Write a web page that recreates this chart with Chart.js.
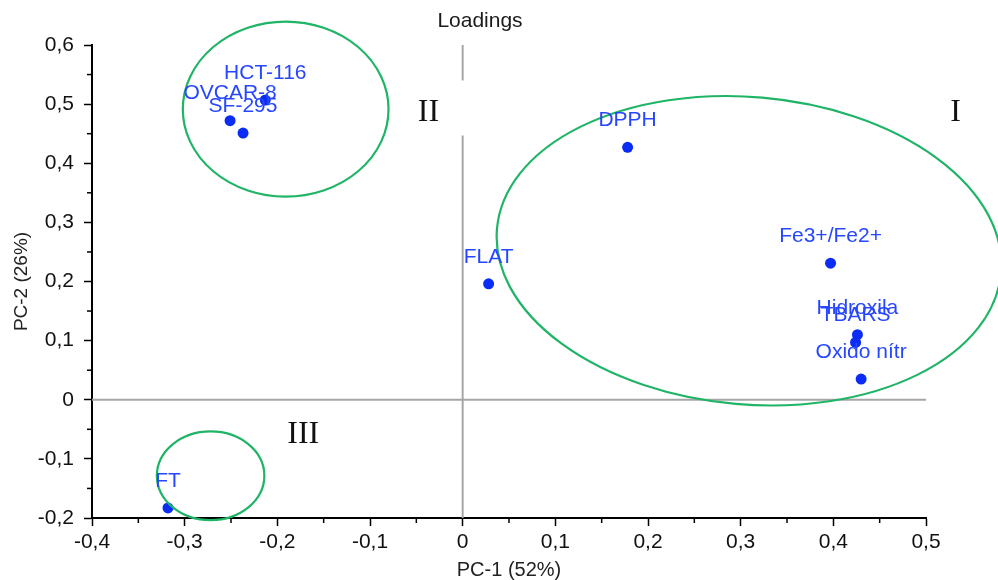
<!DOCTYPE html>
<html>
<head>
<meta charset="utf-8">
<title>Loadings</title>
<script src="https://cdn.jsdelivr.net/npm/chart.js@4.4.1/dist/chart.umd.min.js"></script>
<style>
  html, body { margin: 0; padding: 0; background: #fff; }
  #wrap { width: 998px; height: 580px; }
</style>
</head>
<body>
<div id="wrap"><canvas id="chartLoadings" width="998" height="580"></canvas></div>
<script>
// ============= DATA =============
const variables = ['HCT-116', 'OVCAR-8', 'SF-295', 'DPPH', 'FLAT', 'Fe3+/Fe2+', 'Hidroxila', 'TBARS', 'Oxido nítr', 'FT'];
const pc1 = [-0.213, -0.251, -0.237, 0.178, 0.028, 0.397, 0.426, 0.424, 0.430, -0.318];
const pc2 = [0.507, 0.472, 0.451, 0.427, 0.196, 0.231, 0.110, 0.097, 0.035, -0.183];

const xTickLabels = ['-0,4', '-0,3', '-0,2', '-0,1', '0', '0,1', '0,2', '0,3', '0,4', '0,5'];
const yTickLabels = ['-0,2', '-0,1', '0', '0,1', '0,2', '0,3', '0,4', '0,5', '0,6'];
const X_MIN = -0.4, X_MAX = 0.5, Y_MIN = -0.2, Y_MAX = 0.6;

// groups (ellipses) and their roman labels
const groupNames = ['I', 'II', 'III'];
const groupLabelX = [0.532, -0.037, -0.172];
const groupLabelY = [0.486, 0.486, -0.059];
const ellipseCx = [0.309, -0.191, -0.272];
const ellipseCy = [0.252, 0.4915, -0.1285];
const ellipseRx = [0.273, 0.111, 0.058];
const ellipseRy = [0.260, 0.148, 0.075];
const ellipseTilt = [5, 0, 0];

// gap in the vertical zero line (as in the original figure)
const zeroGap = [0.447, 0.54];

const FONT = "'Liberation Sans', Arial, sans-serif";

function isMajor(v) {
  return Math.abs(v * 10 - Math.round(v * 10)) < 1e-6;
}

// ============= PLUGINS =============
const overlayPlugin = {
  id: 'overlay',
  afterDatasetsDraw(chart) {
    const ctx = chart.ctx;
    const xs = chart.scales.x, ys = chart.scales.y;
    ctx.save();

    // ellipses
    ctx.strokeStyle = '#1fb466';
    ctx.lineWidth = 2.2;
    ellipseCx.forEach(function(cx, i) {
      const px = xs.getPixelForValue(cx);
      const py = ys.getPixelForValue(ellipseCy[i]);
      const rx = Math.abs(xs.getPixelForValue(cx + ellipseRx[i]) - px);
      const ry = Math.abs(ys.getPixelForValue(ellipseCy[i] + ellipseRy[i]) - py);
      ctx.beginPath();
      ctx.ellipse(px, py, rx, ry, ellipseTilt[i] * Math.PI / 180, 0, Math.PI * 2);
      ctx.stroke();
    });

    // point labels
    ctx.fillStyle = '#2746ff';
    ctx.font = '21px ' + FONT;
    ctx.textAlign = 'center';
    ctx.textBaseline = 'middle';
    variables.forEach(function(name, i) {
      ctx.fillText(name, xs.getPixelForValue(pc1[i]), ys.getPixelForValue(pc2[i]) - 27);
    });

    // group numerals
    ctx.fillStyle = '#111';
    ctx.font = "32px 'Liberation Serif', 'Times New Roman', serif";
    groupNames.forEach(function(g, i) {
      ctx.fillText(g, xs.getPixelForValue(groupLabelX[i]), ys.getPixelForValue(groupLabelY[i]));
    });

    // title
    ctx.fillStyle = '#1a1a1a';
    ctx.font = '21px ' + FONT;
    ctx.fillText('Loadings', 480, 21);

    // minor ticks
    ctx.strokeStyle = '#000';
    ctx.lineWidth = 1.5;
    xs.ticks.forEach(function(t) {
      if (isMajor(t.value)) return;
      const p = xs.getPixelForValue(t.value);
      ctx.beginPath();
      ctx.moveTo(p, chart.chartArea.bottom);
      ctx.lineTo(p, chart.chartArea.bottom + 5);
      ctx.stroke();
    });
    ys.ticks.forEach(function(t) {
      if (isMajor(t.value)) return;
      const p = ys.getPixelForValue(t.value);
      ctx.beginPath();
      ctx.moveTo(chart.chartArea.left, p);
      ctx.lineTo(chart.chartArea.left - 5, p);
      ctx.stroke();
    });

    ctx.restore();
  }
};

// ============= CHART =============
const points = pc1.map(function(x, i) { return { x: x, y: pc2[i] }; });
const lineStyle = { showLine: true, pointRadius: 0, borderColor: '#a6a6a6', borderWidth: 2, order: 2 };

new Chart(document.getElementById('chartLoadings'), {
  type: 'scatter',
  data: {
    datasets: [
      {
        label: 'Loadings',
        data: points,
        pointRadius: 5.5,
        pointHoverRadius: 5.5,
        pointBackgroundColor: '#0b2cf5',
        pointBorderWidth: 0,
        order: 0
      },
      Object.assign({ data: [{ x: X_MIN, y: 0 }, { x: X_MAX, y: 0 }] }, lineStyle),
      Object.assign({ data: [{ x: 0, y: Y_MIN }, { x: 0, y: zeroGap[0] }] }, lineStyle),
      Object.assign({ data: [{ x: 0, y: zeroGap[1] }, { x: 0, y: Y_MAX }] }, lineStyle)
    ]
  },
  options: {
    responsive: false,
    animation: false,
    layout: { padding: { top: 45, right: 72, left: 0, bottom: 0 } },
    plugins: {
      legend: { display: false },
      title: { display: false },
      tooltip: { enabled: false }
    },
    scales: {
      x: {
        type: 'linear',
        min: X_MIN,
        max: X_MAX,
        border: { display: true, color: '#000', width: 2 },
        grid: {
          drawOnChartArea: false,
          drawTicks: true,
          tickLength: 8,
          tickWidth: 1.5,
          tickColor: function(c) { return c.tick && isMajor(c.tick.value) ? '#000' : 'rgba(0,0,0,0)'; }
        },
        ticks: {
          stepSize: 0.05,
          autoSkip: false,
          maxRotation: 0,
          padding: 4,
          color: '#111',
          font: { family: FONT, size: 21 },
          callback: function(v) {
            return isMajor(v) ? xTickLabels[Math.round((v - X_MIN) * 10)] : '';
          }
        },
        title: {
          display: true,
          text: 'PC-1 (52%)',
          color: '#222',
          font: { family: FONT, size: 20, lineHeight: 1 },
          padding: { top: 0, bottom: 0 }
        },
        afterFit: function(s) { s.height = 62; }
      },
      y: {
        type: 'linear',
        min: Y_MIN,
        max: Y_MAX,
        border: { display: true, color: '#000', width: 2 },
        grid: {
          drawOnChartArea: false,
          drawTicks: true,
          tickLength: 8,
          tickWidth: 1.5,
          tickColor: function(c) { return c.tick && isMajor(c.tick.value) ? '#000' : 'rgba(0,0,0,0)'; }
        },
        ticks: {
          stepSize: 0.05,
          autoSkip: false,
          padding: 10,
          color: '#111',
          font: { family: FONT, size: 21 },
          callback: function(v) {
            return isMajor(v) ? yTickLabels[Math.round((v - Y_MIN) * 10)] : '';
          }
        },
        title: {
          display: true,
          text: 'PC-2 (26%)',
          color: '#222',
          font: { family: FONT, size: 19, lineHeight: 1 },
          padding: { top: 12, bottom: 0 }
        },
        afterFit: function(s) { s.width = 92; }
      }
    }
  },
  plugins: [overlayPlugin]
});
</script>
</body>
</html>
